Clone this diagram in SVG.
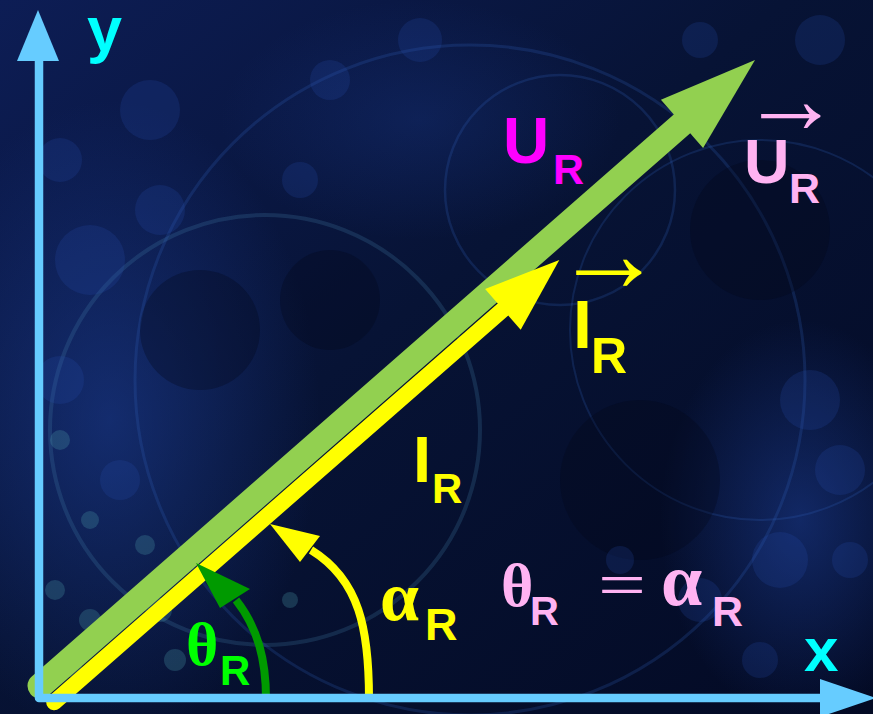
<svg xmlns="http://www.w3.org/2000/svg" width="873" height="714" viewBox="0 0 873 714">
<defs>
  <linearGradient id="bg" x1="0" y1="0" x2="1" y2="1">
    <stop offset="0" stop-color="#0d1d55"/>
    <stop offset="0.45" stop-color="#071335"/>
    <stop offset="1" stop-color="#030a24"/>
  </linearGradient>
  <radialGradient id="glow" cx="0.5" cy="0.5" r="0.5">
    <stop offset="0" stop-color="#1f43a0" stop-opacity="0.5"/>
    <stop offset="1" stop-color="#1f43a0" stop-opacity="0"/>
  </radialGradient>
  <style>
    .lat{font-family:"Liberation Sans",Arial,sans-serif;font-weight:bold}
    .grk{font-family:"Liberation Serif","Times New Roman",serif;font-weight:bold}
    .vec{font-family:"Liberation Serif","Times New Roman",serif}
    .bk{fill:#2a50b4;opacity:0.2}
    .dk{fill:#020616;opacity:0.3}
    .tl{fill:#4c9aa8;opacity:0.28}
    .ring{fill:none;stroke:#3463c0;stroke-opacity:0.22}
    .axis{fill:none;stroke:#66CCFF;stroke-width:8.5;stroke-linejoin:round}
    .arc{fill:none;stroke-width:8}
  </style>
</defs>

<g id="background">
  <rect width="873" height="714" fill="url(#bg)"/>
  <ellipse cx="110" cy="420" rx="210" ry="320" fill="url(#glow)"/>
  <ellipse cx="800" cy="520" rx="140" ry="200" fill="url(#glow)"/>
  <ellipse cx="420" cy="120" rx="200" ry="120" fill="url(#glow)" opacity="0.5"/>
  <circle class="ring" cx="265" cy="430" r="215" stroke-width="4" style="stroke:#4a8ab0"/>
  <circle class="ring" cx="560" cy="190" r="115" stroke-width="2.5"/>
  <circle class="ring" cx="470" cy="380" r="335" stroke-width="3"/>
  <circle class="ring" cx="760" cy="330" r="190" stroke-width="2"/>
  <circle class="dk" cx="640" cy="480" r="80"/>
  <circle class="dk" cx="200" cy="330" r="60"/>
  <circle class="dk" cx="760" cy="230" r="70"/>
  <circle class="dk" cx="330" cy="300" r="50"/>
  <circle class="bk" cx="150" cy="110" r="30"/>
  <circle class="bk" cx="160" cy="210" r="25"/>
  <circle class="bk" cx="90" cy="260" r="35"/>
  <circle class="bk" cx="60" cy="160" r="22"/>
  <circle class="bk" cx="330" cy="80" r="20"/>
  <circle class="bk" cx="420" cy="40" r="22"/>
  <circle class="bk" cx="300" cy="180" r="18"/>
  <circle class="bk" cx="810" cy="400" r="30"/>
  <circle class="bk" cx="840" cy="470" r="25"/>
  <circle class="bk" cx="780" cy="560" r="28"/>
  <circle class="bk" cx="700" cy="600" r="22"/>
  <circle class="bk" cx="620" cy="560" r="14"/>
  <circle class="bk" cx="760" cy="660" r="18"/>
  <circle class="bk" cx="850" cy="560" r="18"/>
  <circle class="bk" cx="820" cy="40" r="25"/>
  <circle class="bk" cx="700" cy="40" r="18"/>
  <circle class="bk" cx="120" cy="480" r="20"/>
  <circle class="bk" cx="60" cy="380" r="24"/>
  <circle class="tl" cx="90" cy="620" r="11"/>
  <circle class="tl" cx="70" cy="665" r="12"/>
  <circle class="tl" cx="55" cy="590" r="10"/>
  <circle class="tl" cx="160" cy="610" r="12"/>
  <circle class="tl" cx="145" cy="545" r="10"/>
  <circle class="tl" cx="90" cy="520" r="9"/>
  <circle class="tl" cx="175" cy="660" r="11"/>
  <circle class="tl" cx="290" cy="600" r="8"/>
  <circle class="tl" cx="60" cy="440" r="10"/>
</g>

<g id="connectors">
  <g id="vector-UR">
    <line x1="40" y1="686" x2="682" y2="123.9" stroke="#92D050" stroke-width="25" stroke-linecap="round"/>
    <polygon points="755,60 703.1,148 660.9,99.8" fill="#92D050"/>
  </g>
  <g id="vector-IR">
    <line x1="54.2" y1="702.2" x2="503" y2="309.4" stroke="#FFFF00" stroke-width="16" stroke-linecap="round"/>
    <polygon points="559.3,260 520.7,329.7 485.1,289.1" fill="#FFFF00"/>
  </g>
  <g id="arc-theta">
    <path class="arc" d="M266,699 C266,660 258,628 236,600" stroke="#009A00"/>
    <polygon points="196,563 250,589 220,608" fill="#009A00"/>
  </g>
  <g id="arc-alpha">
    <path class="arc" d="M369,699 C369,630 360,580 311,550" stroke="#FFFF00"/>
    <polygon points="270,524 320,536 300,562" fill="#FFFF00"/>
  </g>
  <g id="axes">
    <path class="axis" d="M39,61 L39,698 L822,698"/>
    <polygon points="38,10 17,61 59,61" fill="#66CCFF"/>
    <polygon points="876,698 820,679 820,717" fill="#66CCFF"/>
  </g>
</g>

<g id="label-y"><text class="lat" x="87" y="51" font-size="63" fill="#00FFFF">y</text></g>
<g id="label-x"><text class="lat" x="804" y="671" font-size="62" fill="#00FFFF">x</text></g>

<g id="label-UR">
  <text class="lat" x="503" y="163" font-size="64" fill="#FF00FF">U</text>
  <text class="lat" x="553" y="184" font-size="43" fill="#FF00FF">R</text>
</g>

<g id="label-UR-vec" fill="#FFB3F2">
  <text class="vec" x="741" y="133" font-size="100">→</text>
  <text class="lat" x="744" y="183" font-size="63">U</text>
  <text class="lat" x="789" y="203" font-size="43">R</text>
</g>

<g id="label-IR-vec" fill="#FFFF00">
  <text class="vec" x="554" y="291" font-size="110">→</text>
  <text class="lat" x="573" y="348" font-size="68">I</text>
  <text class="lat" x="591" y="373" font-size="50">R</text>
</g>

<g id="label-IR" fill="#FFFF00">
  <text class="lat" x="413" y="482" font-size="65">I</text>
  <text class="lat" x="432" y="503" font-size="42">R</text>
</g>

<g id="label-alpha" fill="#FFFF00">
  <text class="grk" x="380" y="620" font-size="70">α</text>
  <text class="lat" x="425" y="640" font-size="45">R</text>
</g>

<g id="label-theta" fill="#00FF00">
  <text class="grk" x="186" y="665" font-size="62">θ</text>
  <text class="lat" x="220" y="685" font-size="42">R</text>
</g>

<g id="label-equation" fill="#FFB3F2">
  <text class="grk" x="501" y="606" font-size="62">θ</text>
  <text class="lat" x="530" y="625" font-size="40">R</text>
  <text class="vec" x="598" y="606" font-size="64" textLength="48" lengthAdjust="spacingAndGlyphs">=</text>
  <text class="grk" x="661" y="605" font-size="74">α</text>
  <text class="lat" x="712" y="626" font-size="43">R</text>
</g>
</svg>
